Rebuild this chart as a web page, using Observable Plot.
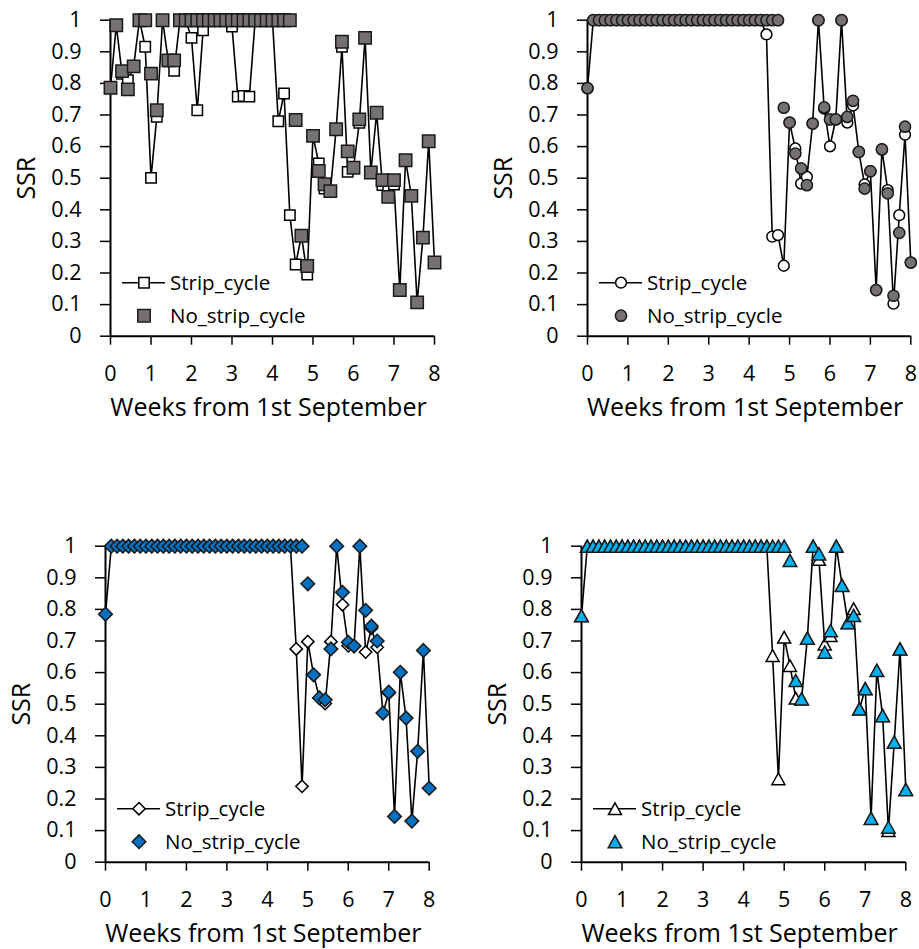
<!DOCTYPE html>
<html>
<head>
<meta charset="utf-8">
<script src="https://cdn.jsdelivr.net/npm/d3@7"></script>
<script src="https://cdn.jsdelivr.net/npm/@observablehq/plot@0.6"></script>
<style>
  html, body { margin: 0; padding: 0; background: #fff; }
  #root { position: relative; width: 919px; height: 949px; overflow: hidden; }
  #root svg { position: absolute; overflow: visible; background: transparent; max-width: none; }
</style>
</head>
<body>
<div id="root"></div>
<script>
// ---- data (days since 1st September; x is shown in weeks) ----
const days = d3.range(0, 57);
const seriesNames = ["Strip_cycle", "No_strip_cycle"];
const xTicks = [0, 1, 2, 3, 4, 5, 6, 7, 8];
const yTicks = [0, 0.1, 0.2, 0.3, 0.4, 0.5, 0.6, 0.7, 0.8, 0.9, 1];
const xTitle = "Weeks from 1st September";
const yTitle = "SSR";

// panel 1 (squares)
const p1Strip = [0.786, 0.984, 0.83, 0.81, 0.854, 1, 0.916, 0.501, 0.694, 1,
  0.87, 0.84, 1, 1, 0.944, 0.715, 0.968, 1, 1, 1,
  1, 0.98, 0.758, 0.76, 0.758, 1, 1, 1, 1, 0.68,
  0.768, 0.383, 0.227, 0.318, 0.195, 0.634, 0.547, 0.467, 0.459, 0.655,
  0.916, 0.52, 0.533, 0.675, 0.944, 0.518, 0.707, 0.478, 0.475, 0.48,
  0.146, 0.557, 0.444, 0.107, 0.312, 0.617, 0.233];
const p1NoStrip = [0.786, 0.984, 0.839, 0.781, 0.854, 1, 1, 0.831, 0.715, 1,
  0.873, 0.873, 1, 1, 1, 1, 1, 1, 1, 1,
  1, 1, 1, 1, 1, 1, 1, 1, 1, 1,
  1, 1, 0.684, 0.318, 0.222, 0.634, 0.523, 0.481, 0.459, 0.655,
  0.932, 0.585, 0.533, 0.686, 0.944, 0.518, 0.707, 0.494, 0.441, 0.494,
  0.146, 0.557, 0.444, 0.107, 0.312, 0.617, 0.233];

// panel 2 (circles)
const p2Strip = [0.785, 1, 1, 1, 1, 1, 1, 1, 1, 1,
  1, 1, 1, 1, 1, 1, 1, 1, 1, 1,
  1, 1, 1, 1, 1, 1, 1, 1, 1, 1,
  1, 0.955, 0.315, 0.32, 0.223, 0.676, 0.594, 0.483, 0.504, 0.673,
  1, 0.72, 0.601, 0.686, 1, 0.676, 0.73, 0.583, 0.48, 0.522,
  0.146, 0.591, 0.462, 0.103, 0.383, 0.638, 0.233];
const p2NoStrip = [0.785, 1, 1, 1, 1, 1, 1, 1, 1, 1,
  1, 1, 1, 1, 1, 1, 1, 1, 1, 1,
  1, 1, 1, 1, 1, 1, 1, 1, 1, 1,
  1, 1, 1, 1, 0.723, 0.676, 0.578, 0.531, 0.478, 0.673,
  1, 0.724, 0.686, 0.686, 1, 0.694, 0.745, 0.583, 0.467, 0.522,
  0.146, 0.591, 0.452, 0.128, 0.327, 0.663, 0.233];

// panel 3 (diamonds)
const p3Strip = [0.785, 1, 1, 1, 1, 1, 1, 1, 1, 1,
  1, 1, 1, 1, 1, 1, 1, 1, 1, 1,
  1, 1, 1, 1, 1, 1, 1, 1, 1, 1,
  1, 1, 1, 0.675, 0.24, 0.698, 0.593, 0.52, 0.502, 0.698,
  1, 0.815, 0.685, 0.684, 1, 0.665, 0.74, 0.68, 0.472, 0.535,
  0.145, 0.601, 0.456, 0.13, 0.351, 0.67, 0.234];
const p3NoStrip = [0.785, 1, 1, 1, 1, 1, 1, 1, 1, 1,
  1, 1, 1, 1, 1, 1, 1, 1, 1, 1,
  1, 1, 1, 1, 1, 1, 1, 1, 1, 1,
  1, 1, 1, 1, 1, 0.881, 0.593, 0.52, 0.514, 0.675,
  1, 0.854, 0.696, 0.684, 1, 0.797, 0.747, 0.70, 0.472, 0.538,
  0.145, 0.601, 0.456, 0.13, 0.351, 0.67, 0.234];

// panel 4 (triangles)
const p4Strip = [0.78, 1, 1, 1, 1, 1, 1, 1, 1, 1,
  1, 1, 1, 1, 1, 1, 1, 1, 1, 1,
  1, 1, 1, 1, 1, 1, 1, 1, 1, 1,
  1, 1, 1, 0.654, 0.264, 0.712, 0.622, 0.519, 0.517, 0.709,
  1, 0.958, 0.69, 0.717, 1, 0.876, 0.758, 0.802, 0.485, 0.549,
  0.139, 0.607, 0.464, 0.10, 0.38, 0.675, 0.23];
const p4NoStrip = [0.78, 1, 1, 1, 1, 1, 1, 1, 1, 1,
  1, 1, 1, 1, 1, 1, 1, 1, 1, 1,
  1, 1, 1, 1, 1, 1, 1, 1, 1, 1,
  1, 1, 1, 1, 1, 1, 0.955, 0.575, 0.517, 0.709,
  1, 0.976, 0.665, 0.733, 1, 0.876, 0.758, 0.781, 0.485, 0.549,
  0.139, 0.607, 0.464, 0.111, 0.38, 0.675, 0.23];

// ---- symbols (half-size = r) ----
const half = size => Math.sqrt(size / Math.PI);
const symSquare = { draw(c, s) { const h = half(s); c.rect(-h, -h, 2 * h, 2 * h); } };
const symDiamond = { draw(c, s) { const h = half(s); c.moveTo(0, -h); c.lineTo(h, 0); c.lineTo(0, h); c.lineTo(-h, 0); c.closePath(); } };
const symTriangle = { draw(c, s) { const h = half(s); c.moveTo(0, -0.9 * h); c.lineTo(h, 0.9 * h); c.lineTo(-h, 0.9 * h); c.closePath(); } };
const symCircle = { draw(c, s) { const h = half(s); c.moveTo(h, 0); c.arc(0, 0, h, 0, 2 * Math.PI); c.closePath(); } };

const FONT = "'Open Sans', 'Noto Sans', sans-serif";

const panels = [
  { strip: p1Strip, noStrip: p1NoStrip, sym: symSquare, rOpen: 5.2, rFill: 6.2, fill: "#767171",
    left: 0, top: 0, width: 460, height: 440, mL: 110, mR: 26, mT: 19.7, mB: 104.3 },
  { strip: p2Strip, noStrip: p2NoStrip, sym: symCircle, rOpen: 5.4, rFill: 5.6, fill: "#767171",
    left: 460, top: 0, width: 459, height: 440, mL: 127, mR: 8.7, mT: 19.7, mB: 104.3 },
  { strip: p3Strip, noStrip: p3NoStrip, sym: symDiamond, rOpen: 6.2, rFill: 6.8, fill: "#0070C0",
    left: 0, top: 500, width: 460, height: 449, mL: 105, mR: 31.3, mT: 45.7, mB: 87.3 },
  { strip: p4Strip, noStrip: p4NoStrip, sym: symTriangle, rOpen: 6.5, rFill: 6.8, fill: "#00B0F0",
    left: 460, top: 500, width: 459, height: 449, mL: 121, mR: 13.7, mT: 45.7, mB: 87.3 }
];

const root = document.getElementById("root");

for (const p of panels) {
  const data = days.map((d, i) => ({ w: d / 7, s: p.strip[i], n: p.noStrip[i] }));
  const svg = Plot.plot({
    width: p.width, height: p.height,
    marginLeft: p.mL, marginRight: p.mR, marginTop: p.mT, marginBottom: p.mB,
    style: { fontFamily: FONT, fontSize: "21px", color: "#000", background: "transparent", overflow: "visible" },
    x: { domain: [0, 8] },
    y: { domain: [0, 1] },
    marks: [
      Plot.axisY({ ticks: yTicks, tickSize: 10, tickPadding: 19, strokeWidth: 1.5, label: null,
        tickFormat: d => String(d), fontSize: 21.5 }),
      Plot.axisX({ ticks: xTicks, tickSize: 9, tickPadding: 21, strokeWidth: 1.5, label: null,
        tickFormat: d => String(d), fontSize: 21.5 }),
      Plot.ruleX([0], { stroke: "#000", strokeWidth: 2 }),
      Plot.ruleY([0], { stroke: "#000", strokeWidth: 2 }),
      Plot.line(data, { x: "w", y: "s", stroke: "#000", strokeWidth: 1.6, strokeLinejoin: "round" }),
      Plot.dot(data, { x: "w", y: "s", symbol: p.sym, r: p.rOpen, fill: "#fff", stroke: "#000", strokeWidth: 1.5 }),
      Plot.dot(data, { x: "w", y: "n", symbol: p.sym, r: p.rFill, fill: p.fill, stroke: "#1a1a1a", strokeWidth: 1.5 }),
      Plot.text([xTitle], { text: d => d, frameAnchor: "bottom", lineAnchor: "middle", textAnchor: "middle",
        dy: 72, dx: -4, fontSize: 25, fill: "#000" }),
      Plot.text([yTitle], { text: d => d, frameAnchor: "left", lineAnchor: "middle", textAnchor: "middle",
        dx: -84, rotate: -90, fontSize: 25, fill: "#000" })
    ]
  });
  svg.style.left = p.left + "px";
  svg.style.top = p.top + "px";
  root.appendChild(svg);

  // legend inside the plot area, bottom-left
  const g = d3.select(svg).append("g").attr("font-family", FONT).attr("font-size", 20.5)
    .attr("text-anchor", "start").attr("fill", "#000");
  const x0 = p.mL, yb = p.height - p.mB;
  const row1 = yb - 53, row2 = yb - 20;
  const symPath = (sym, r) => { const pth = d3.path(); sym.draw(pth, r * r * Math.PI); return pth.toString(); };
  g.append("line").attr("x1", x0 + 12).attr("x2", x0 + 55).attr("y1", row1).attr("y2", row1)
    .attr("stroke", "#000").attr("stroke-width", 1.6);
  g.append("path").attr("d", symPath(p.sym, p.rOpen)).attr("transform", `translate(${x0 + 34},${row1})`)
    .attr("fill", "#fff").attr("stroke", "#000").attr("stroke-width", 1.5);
  g.append("text").attr("x", x0 + 60).attr("y", row1).attr("dy", "0.35em").attr("text-anchor", "start").text(seriesNames[0]);
  g.append("path").attr("d", symPath(p.sym, p.rFill)).attr("transform", `translate(${x0 + 34},${row2})`)
    .attr("fill", p.fill).attr("stroke", "#1a1a1a").attr("stroke-width", 1.5);
  g.append("text").attr("x", x0 + 60).attr("y", row2).attr("dy", "0.35em").attr("text-anchor", "start").text(seriesNames[1]);
}
</script>
</body>
</html>
